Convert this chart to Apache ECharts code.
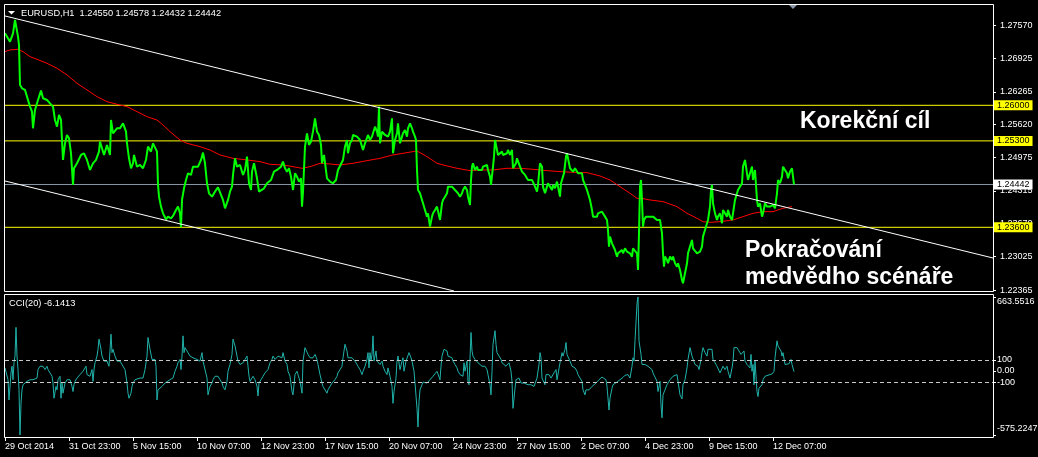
<!DOCTYPE html>
<html><head><meta charset="utf-8">
<script src="https://cdn.jsdelivr.net/npm/echarts@6/dist/echarts.min.js"></script>
<style>html,body{margin:0;padding:0;background:#000;}#c{width:1038px;height:457px;}</style>
</head><body><div id="c"></div>
<script>
// ---- tick labels / levels ----
const priceTickValues = [1.27570,1.26925,1.26265,1.25620,1.24975,1.24315,1.23670,1.23025,1.22365];
const levelValues = [1.26000,1.25300,1.23600];
const bidValue = 1.24442;
const dateTickIdx = [0,64,128,192,256,320,384,448,512,576,640,704,768];
const dateTickLabels = ['29 Oct 2014','31 Oct 23:00','5 Nov 15:00','10 Nov 07:00','12 Nov 23:00','17 Nov 15:00','20 Nov 07:00','24 Nov 23:00','27 Nov 15:00','2 Dec 07:00','4 Dec 23:00','9 Dec 15:00','12 Dec 07:00'];
const cciTickValues = [663.5516,100,0,-100,-575.2247];
const cciTickLabels = ['663.5516','100','0.00','-100','-575.2247'];
const cciLevels = [100,-100];
const channelUpper = [[0,1.27757],[988,1.22996]];
const channelLower = [[0,1.24511],[449,1.22347]];
const titleText = 'EURUSD,H1  1.24550 1.24578 1.24432 1.24442';
const cciTitle = 'CCI(20) -6.1413';
const notes = ['Korekční cíl','Pokračování','medvědho scénáře'];

// ---- EURUSD H1 close (bar index, price) ----
const price = [[0,1.27416],[5,1.27252],[8,1.27416],[10,1.27679],[12,1.27666],[13,1.27351],[14,1.27187],[15,1.26400],[17,1.26334],[20,1.26302],[22,1.2617],[25,1.25974],[27,1.25875],[28,1.25548],[30,1.25908],[32,1.26039],[36,1.26289],[38,1.26138],[42,1.26105],[45,1.26039],[48,1.25974],[50,1.25711],[52,1.2558],[54,1.2581],[56,1.25711],[57,1.25318],[58,1.24925],[60,1.25252],[62,1.25416],[64,1.25351],[66,1.25056],[68,1.24433],[69,1.24761],[72,1.24859],[76,1.25023],[79,1.25056],[82,1.24925],[85,1.24728],[88,1.24859],[91,1.24925],[94,1.25089],[95,1.25285],[97,1.25154],[99,1.25023],[102,1.2522],[105,1.25023],[106,1.25711],[108,1.25449],[112,1.25548],[115,1.25548],[118,1.25646],[121,1.25482],[122,1.25252],[124,1.24957],[126,1.24761],[128,1.24859],[129,1.25023],[132,1.24793],[135,1.24826],[138,1.24761],[141,1.24925],[143,1.25187],[146,1.25089],[148,1.25252],[150,1.25285],[152,1.25089],[153,1.24433],[154,1.24203],[156,1.24007],[158,1.23875],[161,1.23757],[163,1.2381],[166,1.23777],[168,1.23823],[171,1.23941],[173,1.24007],[175,1.23875],[176,1.236],[177,1.24138],[179,1.24367],[181,1.24531],[183,1.24662],[186,1.2463],[188,1.24793],[190,1.24826],[193,1.24793],[196,1.24925],[198,1.25069],[200,1.24859],[202,1.24466],[204,1.24269],[207,1.24203],[210,1.24302],[213,1.24387],[216,1.24236],[218,1.24138],[220,1.23974],[223,1.24138],[225,1.24302],[227,1.244],[228,1.2463],[230,1.24957],[232,1.24793],[235,1.24826],[238,1.2463],[240,1.24728],[242,1.2499],[244,1.24466],[246,1.24334],[247,1.24695],[249,1.24859],[252,1.24564],[254,1.24302],[256,1.24269],[259,1.24367],[262,1.24466],[266,1.24531],[269,1.24695],[272,1.24728],[276,1.24793],[278,1.24892],[280,1.24761],[282,1.24695],[284,1.24761],[286,1.24597],[288,1.24334],[290,1.24662],[292,1.24597],[294,1.24498],[296,1.24564],[297,1.24007],[298,1.24302],[300,1.25187],[302,1.25449],[304,1.2522],[306,1.25285],[308,1.25482],[310,1.25744],[312,1.25482],[314,1.25416],[316,1.2522],[317,1.24859],[319,1.25023],[321,1.2499],[322,1.24564],[325,1.24498],[328,1.24466],[331,1.24531],[333,1.24728],
[335,1.24728],[338,1.24925],[340,1.25187],[342,1.25318],[343,1.25056],[345,1.25252],[347,1.25318],[348,1.25416],[352,1.25384],[355,1.25318],[357,1.25187],[358,1.25121],[360,1.25252],[362,1.25252],[363,1.25416],[365,1.25318],[367,1.25384],[368,1.25449],[370,1.25579],[372,1.25482],[373,1.25384],[374,1.25974],[375,1.25252],[377,1.25482],[378,1.25515],[380,1.25416],[382,1.25449],[383,1.25384],[385,1.25482],[387,1.25744],[388,1.25056],[390,1.25318],[392,1.25449],[393,1.25646],[395,1.25252],[397,1.25384],[398,1.25449],[400,1.25515],[402,1.25384],[403,1.25548],[405,1.25646],[407,1.25548],[408,1.25482],[410,1.25384],[411,1.25318],[412,1.24728],[413,1.24334],[415,1.24269],[417,1.24138],[418,1.24072],[420,1.23941],[422,1.2381],[423,1.23875],[425,1.23613],[427,1.2381],[428,1.23875],[430,1.23941],[432,1.24007],[433,1.23974],[435,1.23744],[437,1.24072],[438,1.24138],[440,1.24203],[442,1.24269],[443,1.244],[447,1.244],[448,1.24433],[450,1.24334],[452,1.24367],[453,1.24269],[455,1.24203],[457,1.24269],[458,1.24334],[460,1.244],[462,1.24334],[463,1.24203],[465,1.24039],[466,1.24531],[467,1.24793],[468,1.24859],[470,1.24728],[472,1.24793],[473,1.24728],[475,1.24761],[477,1.24728],[478,1.24793],[480,1.24761],[482,1.24826],[483,1.24728],[485,1.24597],[486,1.24433],[488,1.24793],[489,1.2499],[490,1.25318],[492,1.25121],[493,1.25023],[495,1.25056],[497,1.25089],[498,1.25023],[500,1.2499],[502,1.25056],[503,1.25121],[505,1.25023],[507,1.25121],[508,1.24761],[509,1.24728],[511,1.24859],[512,1.24957],[514,1.24925],[515,1.24793],[517,1.24695],[518,1.24728],[520,1.2463],[522,1.24662],[523,1.24531],[525,1.24498],[527,1.24531],[528,1.24498],[530,1.244],[532,1.24302],[533,1.24433],[535,1.24859],[537,1.24793],[538,1.244],[540,1.24269],[542,1.244],[543,1.24466],[545,1.244],[547,1.24334],[548,1.24433],[550,1.24367],[552,1.24498],[553,1.24531],[555,1.24203],[556,1.24466],[558,1.24597],[559,1.24662],[561,1.2499],[562,1.25056],[564,1.24859],[565,1.24761],[567,1.24728],[568,1.24695],[570,1.24761],[572,1.24728],[573,1.24662],[575,1.24695],[577,1.24662],[578,1.24531],[580,1.24433],[582,1.24334],[583,1.24269],[585,1.24138],[587,1.23941],[588,1.2381],[590,1.23843],[592,1.2381],[593,1.23875],[595,1.23875],[597,1.23908],[598,1.23875],[600,1.2381],[602,1.23744],[603,1.23548],[604,1.2322],[605,1.23416],[607,1.23285],[608,1.23252],[610,1.23154],[612,1.23023],[613,1.23089],[615,1.23121],[617,1.23154],[618,1.23089],[620,1.23187],[622,1.23121],[623,1.23089],[625,1.23089],[627,1.23023],[628,1.23187],[630,1.2322],[632,1.23089],[633,1.22761],[634,1.23482],[635,1.244],[636,1.24531],[637,1.24138],[638,1.23613],[639,1.23744],[641,1.2381],[643,1.23843],
[645,1.2381],[648,1.2381],[652,1.23744],[655,1.23744],[657,1.23482],[658,1.23089],[659,1.22826],[660,1.23023],[662,1.22957],[663,1.22892],[665,1.23023],[667,1.22957],[668,1.23023],[670,1.22892],[672,1.22826],[673,1.22892],[675,1.22761],[677,1.22564],[678,1.22498],[680,1.22695],[682,1.22892],[683,1.23089],[685,1.2322],[687,1.23351],[688,1.23187],[690,1.23154],[692,1.23089],[693,1.23056],[695,1.23121],[697,1.2322],[698,1.23416],[700,1.23548],[702,1.23679],[703,1.23744],[705,1.24007],[706,1.24334],[707,1.24433],[708,1.24072],[710,1.23875],[712,1.23744],[713,1.2381],[715,1.23875],[717,1.23679],[718,1.23941],[720,1.23875],[722,1.2381],[723,1.23941],[725,1.2381],[727,1.23744],[728,1.23875],[730,1.24138],[732,1.24269],[733,1.24334],[735,1.244],[737,1.24466],[738,1.24793],[740,1.24925],[742,1.24662],[743,1.24531],[745,1.24662],[747,1.24793],[748,1.24531],[750,1.24728],[752,1.24138],[753,1.24007],[755,1.24072],[757,1.2381],[758,1.23875],[760,1.24072],[762,1.24007],[763,1.24039],[765,1.24007],[767,1.23974],[768,1.24039],[770,1.23974],[772,1.24269],[773,1.24531],[775,1.24466],[777,1.24597],[778,1.24793],[780,1.24826],[782,1.24662],[783,1.24564],[785,1.24695],[787,1.24761],[788,1.24597],[789,1.24442]];

// ---- moving average (red) ----
const ma = [[0,1.27056],[5,1.27089],[13,1.27102],[18,1.27056],[25,1.26957],[32,1.26905],[42,1.26826],[52,1.26728],[62,1.26597],[72,1.26433],[82,1.26302],[92,1.2617],[102,1.26072],[112,1.2602],[122,1.25974],[132,1.25875],[142,1.25777],[152,1.25711],[158,1.25613],[165,1.25482],[175,1.25318],[182,1.25252],[195,1.25187],[205,1.25121],[215,1.25023],[228,1.24957],[242,1.24925],[255,1.24892],[265,1.24839],[278,1.24826],[288,1.24793],[297,1.24761],[305,1.24793],[315,1.24859],[325,1.24846],[335,1.24826],[348,1.24859],[362,1.24911],[375,1.24957],[388,1.25023],[402,1.25069],[412,1.25102],[422,1.2499],[432,1.24859],[442,1.24807],[452,1.24761],[465,1.24715],[475,1.24728],[488,1.24728],[502,1.24761],[515,1.24761],[528,1.24741],[542,1.24715],[555,1.24695],[568,1.24682],[582,1.24675],[595,1.2461],[605,1.24531],[615,1.244],[625,1.24269],[632,1.2417],[638,1.24164],[645,1.24138],[658,1.24105],[672,1.24007],[682,1.23875],[692,1.23777],[698,1.23711],[705,1.23698],[715,1.23711],[728,1.23744],[738,1.2381],[748,1.23875],[758,1.23908],[768,1.23908],[778,1.23974],[787,1.24007]];

// ---- CCI(20) (bar index, value) ----
const cci = [[0,27],[2,12],[3,-79],[4,-261],[6,-18],[7,42],[8,-79],[9,73],[10,133],[11,391],[12,133],[13,12],[14,-170],[15,-575.2247],[16,-291],[17,-170],[18,-124],[20,-109],[22,-94],[23,-79],[25,-79],[27,-94],[28,-79],[30,-79],[32,-64],[33,12],[35,42],[37,27],[38,42],[40,12],[42,42],[43,12],[45,-3],[47,-48],[48,-109],[49,-245],[51,-139],[52,-170],[53,-79],[55,-48],[56,-245],[57,-109],[58,-200],[60,-109],[62,-79],[63,-94],[65,-79],[67,-139],[68,-185],[69,-124],[70,-94],[72,-64],[73,-48],[75,-33],[77,-18],[78,-3],[80,12],[81,42],[82,-33],[83,-18],[85,-48],[87,12],[88,-94],[89,12],[90,73],[92,133],[93,194],[94,285],[96,194],[97,133],[98,148],[99,88],[101,73],[102,88],[104,42],[106,330],[107,164],[108,194],[110,133],[112,88],[113,103],[115,88],[117,103],[118,42],[120,12],[122,-109],[123,-200],[124,-245],[126,-200],[127,-139],[128,-109],[130,-79],[132,-64],[135,-64],[137,-48],[138,-64],[140,12],[142,133],[143,300],[145,194],[147,103],[148,88],[150,103],[151,42],[152,-261],[153,-170],[155,-155],[157,-139],[158,-124],[160,-109],[162,-94],[165,-79],[168,-64],[170,-3],[172,42],[173,73],[175,103],[176,12],[177,133],[178,315],[179,164],[180,209],[182,179],[183,164],[185,133],[187,118],[188,118],[192,103],[195,88],[197,164],[198,88],[200,73],[202,-64],[203,-215],[205,-139],[207,-109],[208,-79],[210,-48],[212,-33],[213,-48],[215,-79],[217,-109],[218,-139],[220,-170],[222,-94],[223,-3],[225,58],[227,148],[228,285],[230,224],[232,133],[233,88],[235,58],[237,42],[238,73],[240,103],[242,133],[243,42],[244,-48],[245,-94],[247,-79],[248,-48],[250,-79],[252,-139],[253,-224],[254,-109],[256,-79],[258,-48],[260,-18],[262,-3],[263,12],[265,73],[267,103],[268,133],[270,103],[272,118],[273,133],[275,148],[277,118],[278,164],[280,88],[282,58],[283,-3],[285,-48],
[287,-185],[288,-215],[290,-33],[292,-3],[293,-33],[295,-94],[297,-200],[298,88],[300,209],[302,209],[303,148],[305,118],[307,103],[308,118],[310,148],[312,103],[313,58],[315,-33],[317,-109],[318,-139],[320,-155],[322,-200],[323,-170],[325,-139],[327,-109],[328,-94],[330,-79],[332,-48],[333,-18],[335,12],[337,42],[338,118],[340,239],[342,179],[343,118],[345,133],[347,118],[348,103],[350,88],[352,73],[353,42],[355,12],[357,-33],[358,-3],[360,42],[362,103],[363,164],[364,27],[365,164],[366,88],[367,148],[368,315],[369,88],[371,179],[372,88],[373,103],[375,58],[377,88],[378,42],[380,-3],[382,-33],[383,27],[385,-48],[387,-139],[388,-291],[389,-185],[391,-64],[392,88],[393,133],[395,12],[397,88],[398,118],[399,-3],[401,88],[402,73],[404,164],[406,118],[407,88],[409,-3],[410,-109],[412,-336],[413,-503],[414,-276],[415,-170],[417,-124],[418,-100],[422,-109],[423,-94],[425,-79],[427,-64],[428,-48],[430,-33],[432,-3],[433,-3],[435,-79],[436,42],[437,133],[439,194],[441,209],[442,179],[443,133],[445,148],[447,118],[448,88],[450,58],[452,27],[453,-3],[455,-33],[457,-18],[458,-48],[459,73],[460,-3],[462,88],[463,-94],[464,-124],[466,345],[467,179],[468,133],[470,103],[472,88],[473,73],[475,58],[477,42],[478,27],[480,42],[482,12],[483,-33],[485,-124],[486,-215],[487,-3],[488,239],[490,361],[491,239],[492,164],[494,148],[496,103],[497,73],[499,58],[501,42],[502,58],[504,73],[506,-3],[507,-94],[508,-336],[510,-155],[511,-79],[513,-94],[514,-64],[516,-109],[518,-94],[519,-109],[521,-100],[523,-124],[524,-139],[526,-124],[528,-109],[529,-139],[531,-124],[532,-64],[534,58],[535,164],[536,118],[537,-64],[538,-48],[540,-124],[541,-33],[542,-48],[544,-33],[546,-64],[547,-48],[549,-18],[551,12],[552,-79],[554,-64],[555,73],[557,164],[558,133],[560,194],[561,255],[562,148],[564,133],[565,88],[567,42],[568,27],[570,27],[572,-3],[573,-33],[575,-64],[577,-94],[578,-170],[580,-215],[581,-170],[582,-185],[584,-170],[586,-155],[587,-139],[589,-124],[591,-109],[592,-94],[594,-79],[596,-64],[597,-55],[599,-55],[601,-79],[602,-139],[604,-351],[605,-245],[607,-155],[608,-124],[610,-109],[612,-100],[613,-94],[615,-79],[617,-70],[618,-58],[620,-39],[622,-48],[623,-33],[625,-64],[627,42],[628,118],[629,88],[630,270],[632,603],[633,663.5516],[634,270],[635,255],
[636,148],[637,58],[638,42],[640,58],[642,42],[643,42],[645,27],[647,12],[648,-18],[650,-33],[652,-94],[653,-185],[655,-94],[656,-306],[657,-421],[658,-215],[660,-170],[662,-124],[663,-109],[665,-79],[667,-64],[668,-48],[670,-48],[672,-33],[673,-94],[675,-215],[677,-251],[678,-124],[680,-79],[682,27],[683,103],[685,209],[687,133],[688,118],[690,58],[692,73],[693,42],[694,12],[696,103],[697,164],[698,209],[700,164],[702,133],[703,194],[705,209],[707,194],[708,103],[710,73],[712,42],[713,58],[715,-18],[717,-33],[718,42],[720,12],[722,42],[723,-3],[725,-64],[727,27],[728,88],[729,209],[731,224],[732,209],[734,224],[736,148],[737,164],[739,179],[740,88],[742,58],[743,42],[745,27],[746,148],[747,-3],[748,58],[749,-124],[750,88],[752,-185],[753,-230],[754,-155],[756,-139],[757,-124],[758,-79],[760,-48],[762,-33],[763,-39],[765,-33],[767,-27],[768,-33],[769,-3],[770,118],[772,270],[773,224],[774,239],[776,179],[777,133],[778,164],[780,58],[781,73],[782,58],[784,64],[785,73],[786,103],[787,58],[789,-6.1413]];

const FONT = '"Liberation Sans", Arial, sans-serif';
const near = (arr, v) => arr.findIndex(a => Math.abs(a - v) < 1e-6);

const chart = echarts.init(document.getElementById('c'), null, {renderer: 'canvas'});

const lineSeries = (data, color, width, xi, yi, z) => ({
  type: 'line', data: data, xAxisIndex: xi, yAxisIndex: yi, z: z,
  showSymbol: false, symbol: 'none', silent: true, animation: false, clip: true,
  color: color,
  lineStyle: {color: color, width: width}
});

// horizontal level: a two-point line across the full x range, labelled at its end on the price scale
const levelSeries = (v, color, bg) => Object.assign(lineSeries([[0, v], [988, v]], color, 1, 0, 0, 1), {
  clip: false,
  endLabel: {show: true, formatter: p => Number(p.value[1]).toFixed(5), distance: 1,
    backgroundColor: bg, color: '#000', padding: [1, 3, 0, 3], fontSize: 9, fontFamily: FONT}
});

const noteStyle = {fill: '#fff', fontSize: 23, fontWeight: 'bold', fontFamily: FONT, verticalAlign: 'middle', align: 'left'};

const cciLabelFmt = v => {
  const i = near(cciTickValues, v);
  if (i === 0) return '{top|' + cciTickLabels[i] + '}';
  if (i === cciTickValues.length - 1) return '{bot|' + cciTickLabels[i] + '}';
  return i >= 0 ? cciTickLabels[i] : '';
};

chart.setOption({
  backgroundColor: '#000',
  animation: false,
  grid: [
    {left: 5, top: 5, width: 988, height: 286, containLabel: false, outerBoundsMode: 'none'},
    {left: 5, top: 297, width: 988, height: 138, containLabel: false, outerBoundsMode: 'none'}
  ],
  xAxis: [
    {gridIndex: 0, type: 'value', min: 0, max: 988, show: false},
    {gridIndex: 1, type: 'value', min: 0, max: 988, offset: 2, position: 'bottom',
      axisLine: {show: false, onZero: false},
      axisTick: {show: true, customValues: dateTickIdx, length: 4, lineStyle: {color: '#fff'}},
      axisLabel: {show: true, customValues: dateTickIdx,
        formatter: v => dateTickLabels[near(dateTickIdx, v)] || '',
        color: '#fff', fontSize: 9, fontFamily: FONT, align: 'left', margin: 5},
      splitLine: {show: false}}
  ],
  yAxis: [
    {gridIndex: 0, type: 'value', position: 'right', min: 1.22347, max: 1.27973,
      axisLine: {show: false, onZero: false},
      axisTick: {show: true, customValues: priceTickValues, length: 3, lineStyle: {color: '#fff'}},
      axisLabel: {show: true, customValues: priceTickValues, formatter: v => v.toFixed(5),
        color: '#fff', fontSize: 9, fontFamily: FONT, margin: 7},
      splitLine: {show: false}},
    {gridIndex: 1, type: 'value', position: 'right', min: -575.2247, max: 663.5516,
      axisLine: {show: false, onZero: false},
      axisTick: {show: true, customValues: cciTickValues, length: 3, lineStyle: {color: '#fff'}},
      axisLabel: {show: true, customValues: cciTickValues, formatter: cciLabelFmt,
        color: '#fff', fontSize: 9, fontFamily: FONT, margin: 4,
        rich: {
          top: {color: '#fff', fontSize: 9, fontFamily: FONT, padding: [10, 0, 0, 0]},
          bot: {color: '#fff', fontSize: 9, fontFamily: FONT, padding: [0, 0, 12, 0]}
        }},
      splitLine: {show: false}}
  ],
  series: [
    ...levelValues.map(v => levelSeries(v, '#ffff00', '#ffff00')),
    levelSeries(bidValue, '#8a97a8', '#ffffff'),
    lineSeries(ma, '#ff0000', 1, 0, 0, 2),
    lineSeries(price, '#00ff00', 2, 0, 0, 3),
    lineSeries(channelUpper, '#ffffff', 1, 0, 0, 4),
    lineSeries(channelLower, '#ffffff', 1, 0, 0, 4),
    Object.assign(lineSeries(cci, '#20b2aa', 1, 1, 1, 3), {
      markLine: {silent: true, symbol: ['none', 'none'], animation: false, precision: 4,
        lineStyle: {color: '#c8c8c8', width: 1, type: [4, 3]}, label: {show: false},
        data: cciLevels.map(v => ({yAxis: v}))}
    })
  ],
  graphic: {elements: [
    {type: 'rect', shape: {x: 4.5, y: 4.5, width: 989, height: 287}, style: {fill: 'none', stroke: '#fff', lineWidth: 1}, z: 10, silent: true},
    {type: 'rect', shape: {x: 4.5, y: 294.5, width: 989, height: 143}, style: {fill: 'none', stroke: '#fff', lineWidth: 1}, z: 10, silent: true},
    {type: 'polygon', shape: {points: [[8, 11], [15, 11], [11.5, 14.5]]}, style: {fill: '#fff'}, z: 10, silent: true},
    {type: 'polygon', shape: {points: [[789, 5], [797, 5], [793, 9]]}, style: {fill: '#8a97a8'}, z: 10, silent: true},
    {type: 'text', x: 21, y: 13, style: {text: titleText, fill: '#fff', fontSize: 9.25, fontFamily: FONT, verticalAlign: 'middle'}, z: 10, silent: true},
    {type: 'text', x: 9, y: 303, style: {text: cciTitle, fill: '#fff', fontSize: 9.25, fontFamily: FONT, verticalAlign: 'middle'}, z: 10, silent: true},
    {type: 'text', x: 800, y: 122, style: Object.assign({text: notes[0]}, noteStyle), z: 10, silent: true},
    {type: 'text', x: 745, y: 251, style: Object.assign({text: notes[1]}, noteStyle), z: 10, silent: true},
    {type: 'text', x: 745, y: 278, style: Object.assign({text: notes[2]}, noteStyle), z: 10, silent: true}
  ]}
});
</script>
</body></html>
